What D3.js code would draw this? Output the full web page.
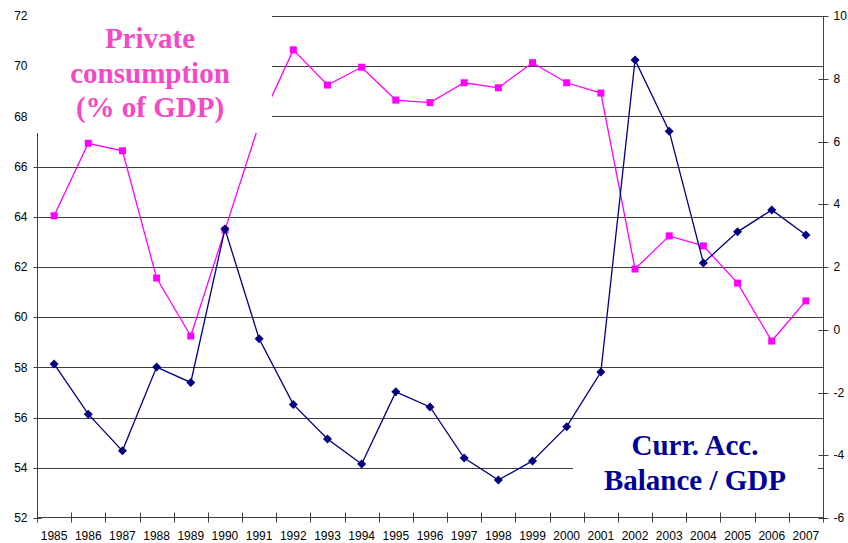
<!DOCTYPE html>
<html>
<head>
<meta charset="utf-8">
<script src="https://cdn.jsdelivr.net/npm/d3@7/dist/d3.min.js"></script>
<style>
  html, body { margin: 0; padding: 0; background: #fff; }
  svg { display: block; }
</style>
</head>
<body>
<svg id="chart" width="848" height="543"></svg>
<script>
const years = ["1985","1986","1987","1988","1989","1990","1991","1992","1993","1994","1995","1996","1997","1998","1999","2000","2001","2002","2003","2004","2005","2006","2007"];
const privateConsumption = [64.04, 66.93, 66.63, 61.56, 59.25, 63.47, 67.7, 70.65, 69.25, 69.96, 68.65, 68.55, 69.34, 69.14, 70.14, 69.34, 68.93, 61.92, 63.24, 62.84, 61.36, 59.05, 60.65];
const currentAccount = [-1.09, -2.69, -3.86, -1.19, -1.68, 3.21, -0.29, -2.38, -3.48, -4.28, -1.98, -2.46, -4.09, -4.79, -4.18, -3.09, -1.35, 8.60, 6.33, 2.13, 3.12, 3.82, 3.02];
const leftTicks = [52, 54, 56, 58, 60, 62, 64, 66, 68, 70, 72];
const rightTicks = [-6, -4, -2, 0, 2, 4, 6, 8, 10];
const pinkLabel = ["Private", "consumption", "(% of GDP)"];
const navyLabel = ["Curr. Acc.", "Balance / GDP"];

const svg = d3.select("#chart");
const L = 37, R = 823, T = 16, B = 518;

const x = d3.scaleBand().domain(years).range([L, R]).padding(0);
const cx = d => x(d) + x.bandwidth() / 2;
const yL = d3.scaleLinear().domain([52, 72]).range([B, T]);
const yR = d3.scaleLinear().domain([-6, 10]).range([B, T]);

const font = "'Liberation Sans', Arial, sans-serif";

// gridlines
svg.append("g").selectAll("line").data(leftTicks.filter(v => v !== 52)).join("line")
  .attr("x1", L).attr("x2", R)
  .attr("y1", d => Math.round(yL(d)) + 0.5).attr("y2", d => Math.round(yL(d)) + 0.5)
  .attr("stroke", "#404040").attr("stroke-width", 1);

// left axis
const gl = svg.append("g").attr("transform", `translate(${L + 0.5},0)`);
gl.append("line").attr("y1", T).attr("y2", B).attr("stroke", "#404040");
gl.selectAll("line.t").data(leftTicks).join("line").attr("class", "t")
  .attr("x1", -4).attr("x2", 4)
  .attr("y1", d => Math.round(yL(d)) + 0.5).attr("y2", d => Math.round(yL(d)) + 0.5)
  .attr("stroke", "#404040");
gl.selectAll("text").data(leftTicks).join("text")
  .attr("x", -10).attr("y", d => yL(d)).attr("dy", "0.35em")
  .attr("text-anchor", "end").attr("font-family", font).attr("font-size", 12)
  .attr("fill", "#000").text(d => d);

// right axis
const gr = svg.append("g").attr("transform", `translate(${R + 0.5},0)`);
gr.append("line").attr("y1", T).attr("y2", B).attr("stroke", "#404040");
gr.selectAll("line.t").data(rightTicks).join("line").attr("class", "t")
  .attr("x1", -5).attr("x2", 5)
  .attr("y1", d => Math.round(yR(d)) + 0.5).attr("y2", d => Math.round(yR(d)) + 0.5)
  .attr("stroke", "#404040");
gr.selectAll("text").data(rightTicks).join("text")
  .attr("x", 10).attr("y", d => yR(d)).attr("dy", "0.35em")
  .attr("text-anchor", "start").attr("font-family", font).attr("font-size", 12)
  .attr("fill", "#000").text(d => d);

// x axis
const gx = svg.append("g").attr("transform", `translate(0,${B - 0.5})`);
gx.append("line").attr("x1", L).attr("x2", R + 1).attr("stroke", "#404040");
const bounds = years.map(d => x(d)).concat([R]);
gx.selectAll("line.t").data(bounds).join("line").attr("class", "t")
  .attr("x1", d => Math.round(d) + 0.5).attr("x2", d => Math.round(d) + 0.5)
  .attr("y1", -5).attr("y2", 5).attr("stroke", "#404040");
gx.selectAll("text").data(years).join("text")
  .attr("x", d => cx(d)).attr("y", 22)
  .attr("text-anchor", "middle").attr("font-family", font).attr("font-size", 12)
  .attr("fill", "#000").text(d => d);

// series: private consumption (left axis)
const pinkData = years.map((d, i) => [cx(d), yL(privateConsumption[i])]);
svg.append("path").attr("d", d3.line()(pinkData))
  .attr("fill", "none").attr("stroke", "#FF00FF").attr("stroke-width", 1.3);
svg.append("g").selectAll("rect").data(pinkData).join("rect")
  .attr("x", d => d[0] - 3.5).attr("y", d => d[1] - 3.5)
  .attr("width", 7).attr("height", 7).attr("fill", "#FF00FF");

// series: current account (right axis)
const navyData = years.map((d, i) => [cx(d), yR(currentAccount[i])]);
svg.append("path").attr("d", d3.line()(navyData))
  .attr("fill", "none").attr("stroke", "#000080").attr("stroke-width", 1.3);
svg.append("g").selectAll("path").data(navyData).join("path")
  .attr("d", d => `M${d[0]},${d[1] - 4.5}L${d[0] + 4.5},${d[1]}L${d[0]},${d[1] + 4.5}L${d[0] - 4.5},${d[1]}Z`)
  .attr("fill", "#000080");

// label boxes
svg.append("rect").attr("x", 30).attr("y", 0).attr("width", 242).attr("height", 133).attr("fill", "#fff");
svg.append("rect").attr("x", 573).attr("y", 428).attr("width", 245).attr("height", 83).attr("fill", "#fff");

const serif = "'Liberation Serif', 'Times New Roman', serif";
svg.append("g").selectAll("text").data(pinkLabel).join("text")
  .attr("x", 150).attr("y", (d, i) => 48 + i * 34.5)
  .attr("text-anchor", "middle").attr("font-family", serif).attr("font-weight", "bold")
  .attr("font-size", 29).attr("fill", "#F548C4").text(d => d);
svg.append("g").selectAll("text").data(navyLabel).join("text")
  .attr("x", 695).attr("y", (d, i) => 455 + i * 35)
  .attr("text-anchor", "middle").attr("font-family", serif).attr("font-weight", "bold")
  .attr("font-size", 29).attr("fill", "#000099").text(d => d);
</script>
</body>
</html>
